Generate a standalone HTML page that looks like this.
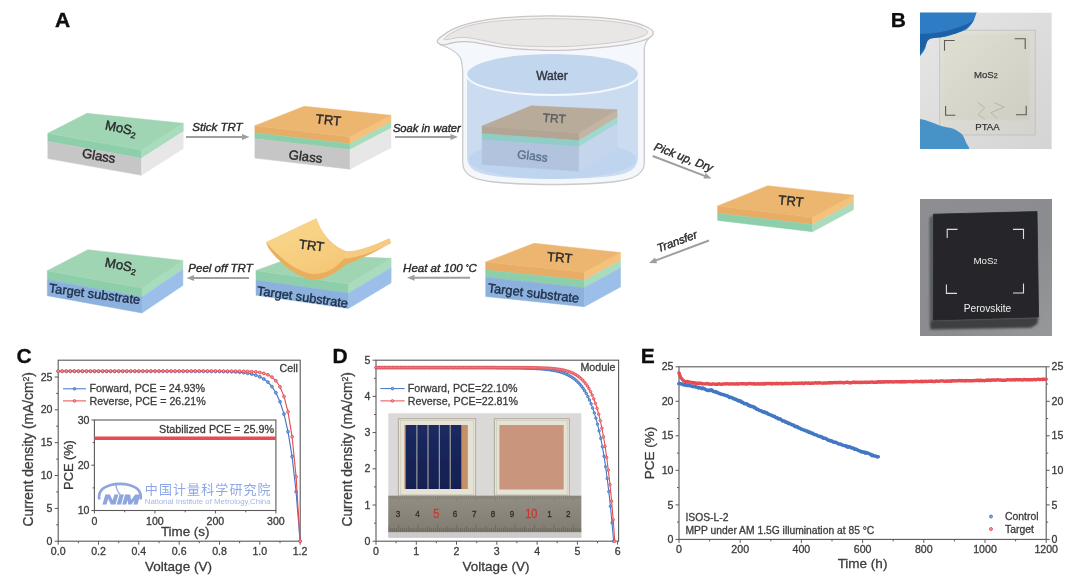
<!DOCTYPE html>
<html lang="en"><head><meta charset="utf-8"><title>Figure</title>
<style>
html,body{margin:0;padding:0;background:#fff;}
body{width:1080px;height:581px;overflow:hidden;font-family:"Liberation Sans", "Noto Sans CJK SC", sans-serif;}
svg{display:block;}
</style></head><body>
<svg width="1080" height="581" viewBox="0 0 1080 581" stroke-width="0.25" font-family='"Liberation Sans", "Noto Sans CJK SC", sans-serif'>
<defs>
<filter id="b1" x="-5%" y="-5%" width="110%" height="110%"><feGaussianBlur stdDeviation="0.6"/></filter>
<filter id="b2" x="-5%" y="-5%" width="110%" height="110%"><feGaussianBlur stdDeviation="1.2"/></filter>
<linearGradient id="peel" x1="0" y1="0" x2="1" y2="1"><stop offset="0" stop-color="#fad98f"/><stop offset="0.6" stop-color="#f6cb7c"/><stop offset="1" stop-color="#f2bf6e"/></linearGradient>
<linearGradient id="ruler" x1="0" y1="0" x2="0" y2="1"><stop offset="0" stop-color="#928e85"/><stop offset="0.5" stop-color="#89857b"/><stop offset="1" stop-color="#807c71"/></linearGradient>
<linearGradient id="navy" x1="0" y1="0" x2="0" y2="1"><stop offset="0" stop-color="#1b2a62"/><stop offset="1" stop-color="#141f50"/></linearGradient>
</defs>
<rect width="1080" height="581" fill="#ffffff"/>
<g id="panelA" filter="url(#b1)" stroke-width="0.4">
<text x="55" y="26.8" font-size="21" font-weight="bold" fill="#111" stroke="#111">A</text>
<g>
<polygon points="47.8,133.3 141.5,150 141.5,158.3 47.8,141.6" fill="#8ecfab" stroke="#8ecfab" stroke-width="0.5"/>
<polygon points="141.5,150 183.3,123.3 183.3,131.6 141.5,158.3" fill="#a9dbbd" stroke="#a9dbbd" stroke-width="0.5"/>
<polygon points="47.8,141.6 141.5,158.3 141.5,175.3 47.8,158.6" fill="#c6c6c6" stroke="#c6c6c6" stroke-width="0.5"/>
<polygon points="141.5,158.3 183.3,131.6 183.3,148.6 141.5,175.3" fill="#e7e7e7" stroke="#e7e7e7" stroke-width="0.5"/>
<polygon points="47.8,133.3 87,113.3 183.3,123.3 141.5,150" fill="#a0d5b3" stroke="#a0d5b3" stroke-width="0.5"/>
</g>
<text x="120" y="132.5" font-size="13.2" text-anchor="middle" fill="#2b2b2b" stroke="#2b2b2b" transform="rotate(11.5 120 132.5)">MoS<tspan font-size="8.5" dy="3">2</tspan></text>
<text x="98" y="160.3" font-size="13.2" text-anchor="middle" fill="#2b2b2b" stroke="#2b2b2b" transform="rotate(10 98 160.3)">Glass</text>
<line x1="186" y1="137" x2="243.5" y2="137" stroke="#9e9e9e" stroke-width="2.0"/>
<polygon points="249.5,137 242,140 242,134" fill="#9e9e9e"/>
<text x="217.5" y="131" font-size="11.5" text-anchor="middle" font-style="italic" fill="#2b2b2b" stroke="#2b2b2b">Stick TRT</text>
<g>
<polygon points="254.9,125.7 350,136.8 350,143.8 254.9,132.7" fill="#e7ad66" stroke="#e7ad66" stroke-width="0.5"/>
<polygon points="350,136.8 391,115.3 391,122.3 350,143.8" fill="#f5c27c" stroke="#f5c27c" stroke-width="0.5"/>
<polygon points="254.9,132.7 350,143.8 350,149.8 254.9,138.7" fill="#8ecfab" stroke="#8ecfab" stroke-width="0.5"/>
<polygon points="350,143.8 391,122.3 391,128.3 350,149.8" fill="#a9dbbd" stroke="#a9dbbd" stroke-width="0.5"/>
<polygon points="254.9,138.7 350,149.8 350,169.2 254.9,158.1" fill="#c6c6c6" stroke="#c6c6c6" stroke-width="0.5"/>
<polygon points="350,149.8 391,128.3 391,147.7 350,169.2" fill="#e7e7e7" stroke="#e7e7e7" stroke-width="0.5"/>
<polygon points="254.9,125.7 304.2,106.3 391,115.3 350,136.8" fill="#ecb671" stroke="#ecb671" stroke-width="0.5"/>
</g>
<text x="328" y="124.5" font-size="13.2" text-anchor="middle" fill="#2b2b2b" stroke="#2b2b2b" transform="rotate(6 328 124.5)">TRT</text>
<text x="305" y="161" font-size="13.2" text-anchor="middle" fill="#2b2b2b" stroke="#2b2b2b" transform="rotate(7 305 161)">Glass</text>
<line x1="395" y1="137" x2="452" y2="137" stroke="#9e9e9e" stroke-width="2.0"/>
<polygon points="458,137 450.5,140 450.5,134" fill="#9e9e9e"/>
<text x="426.8" y="131.5" font-size="11.2" text-anchor="middle" font-style="italic" fill="#2b2b2b" stroke="#2b2b2b">Soak in water</text>
<g>
<path d="M441 45 Q456 50 460.7 58.2 Q462.5 64 462.7 72 L462.7 163 C463 174 472 179 490 181.5 C520 185.5 586 185.5 616 181.5 C634 179 644 174 644.3 163 L644.3 48 Q645.5 41 651 36 L553 20 Z" fill="#f4f7fb" stroke="#cbc9ca" stroke-width="1.3"/>
<path d="M467 74.5 L467 158 C468 169 476 173.5 494 176 C524 180 582 180 612 176 C630 173.5 637 169 638 158 L638 74.5 Z" fill="#cbdcf0"/>
<ellipse cx="552.5" cy="159.5" rx="84" ry="19.5" fill="#bfd4ee"/>
<g>
<polygon points="482.1,126 579.2,132.9 579.2,140.6 482.1,133.7" fill="#b2a593" stroke="#b2a593" stroke-width="0.5"/>
<polygon points="579.2,132.9 617.1,109.7 617.1,117.4 579.2,140.6" fill="#c3b5a3" stroke="#c3b5a3" stroke-width="0.5"/>
<polygon points="482.1,133.7 579.2,140.6 579.2,146.8 482.1,139.9" fill="#8fcdc6" stroke="#8fcdc6" stroke-width="0.5"/>
<polygon points="579.2,140.6 617.1,117.4 617.1,123.6 579.2,146.8" fill="#9fd8d1" stroke="#9fd8d1" stroke-width="0.5"/>
<polygon points="482.1,139.9 579.2,146.8 579.2,171.3 482.1,164.4" fill="#b2c4dd" stroke="#b2c4dd" stroke-width="0.5"/>
<polygon points="579.2,146.8 617.1,123.6 617.1,148.1 579.2,171.3" fill="#c5d6ec" stroke="#c5d6ec" stroke-width="0.5"/>
<polygon points="482.1,126 531.2,105.8 617.1,109.7 579.2,132.9" fill="#b9ab99" stroke="#b9ab99" stroke-width="0.5"/>
</g>
<text x="554" y="122.5" font-size="12" text-anchor="middle" fill="#5a5f66" stroke="#5a5f66" transform="rotate(4 554 122.5)">TRT</text>
<text x="532" y="160" font-size="12" text-anchor="middle" fill="#5d7390" stroke="#5d7390" transform="rotate(7 532 160)">Glass</text>
<ellipse cx="552.5" cy="74.5" rx="85.5" ry="20.5" fill="#c2d6ee"/>
<path d="M466.5 74.5 A86 20.5 0 0 0 638.5 74.5" fill="none" stroke="#f4f8fd" stroke-width="2"/>
<text x="552" y="79.5" font-size="12" text-anchor="middle" fill="#2f3540" stroke="#2f3540">Water</text>
<path d="M437.2 41.3C437 39.8 439.2 38 442 35.9C444.8 33.8 449.1 30.9 454.1 28.7C459.1 26.5 464.2 24.4 472.2 22.6C480.2 20.8 489.2 18.9 502.3 17.8C515.4 16.7 534.2 15.8 550.5 15.8C566.8 15.8 586.8 16.7 600 17.6C613.2 18.6 622.3 20 630 21.5C637.7 23 642.1 24.7 646 26.5C649.9 28.3 653 30.2 653.3 32.2C653.6 34.2 651.9 36.6 648 38.5C644.1 40.4 638 42.1 630 43.6C622 45.1 611.7 46.5 600 47.6C588.3 48.7 572.3 50.1 560 50.4C547.7 50.7 536 50 526.4 49.5C516.8 49 510.4 48.4 502.3 47.3C494.2 46.2 484.1 44 478 43.1C471.9 42.2 470 41.7 466 41.6C462 41.5 457.8 41.7 454 42.3C450.2 42.9 445.8 45.2 443 45C440.2 44.8 437.4 42.8 437.2 41.3Z" fill="#f5f3f3" stroke="#c9c5c6" stroke-width="1.3"/>
<path d="M443.9 39.5C442.9 38.5 449.3 34.1 454 31.7C458.7 29.3 463.9 26.9 472 25C480.1 23.1 489.2 21.7 502.3 20.6C515.4 19.6 534.2 18.7 550.5 18.7C566.8 18.7 587.1 19.5 600 20.4C612.9 21.3 621 22.7 628 24C635 25.3 638.8 26.6 642 28C645.2 29.4 647.5 30.8 647.5 32.2C647.5 33.6 645.6 35.1 642 36.5C638.4 37.9 633.3 39.3 626 40.6C618.7 41.9 609 43.2 598 44.2C587 45.2 574 46.5 560 46.7C546 46.9 526 46.3 514.3 45.5C502.6 44.7 497.1 43.1 490 41.9C482.9 40.7 477 39 472 38.3C467 37.6 464.7 37.3 460 37.5C455.3 37.7 444.9 40.5 443.9 39.5Z" fill="#e9e7e6" stroke="#cfcbcc" stroke-width="1"/>
</g>
<line x1="652.7" y1="156" x2="705.9" y2="176.4" stroke="#9e9e9e" stroke-width="2.0"/>
<polygon points="711.5,178.5 703.4,178.6 705.6,173" fill="#9e9e9e"/>
<text x="682.3" y="160.8" font-size="11.5" text-anchor="middle" font-style="italic" fill="#2b2b2b" stroke="#2b2b2b" transform="rotate(21 682.3 160.8)">Pick up, Dry</text>
<g>
<polygon points="717.6,205.9 812.5,217.2 812.5,224.6 717.6,213.3" fill="#e7ad66" stroke="#e7ad66" stroke-width="0.5"/>
<polygon points="812.5,217.2 853.5,195.2 853.5,202.6 812.5,224.6" fill="#f5c27c" stroke="#f5c27c" stroke-width="0.5"/>
<polygon points="717.6,213.3 812.5,224.6 812.5,231.7 717.6,220.4" fill="#8ecfab" stroke="#8ecfab" stroke-width="0.5"/>
<polygon points="812.5,224.6 853.5,202.6 853.5,209.7 812.5,231.7" fill="#a9dbbd" stroke="#a9dbbd" stroke-width="0.5"/>
<polygon points="717.6,205.9 767.7,185.7 853.5,195.2 812.5,217.2" fill="#ecb671" stroke="#ecb671" stroke-width="0.5"/>
</g>
<text x="790.5" y="205.5" font-size="13.2" text-anchor="middle" fill="#2b2b2b" stroke="#2b2b2b" transform="rotate(6 790.5 205.5)">TRT</text>
<line x1="709" y1="240.5" x2="654.6" y2="260.9" stroke="#9e9e9e" stroke-width="2.0"/>
<polygon points="649,263 655,257.6 657.1,263.2" fill="#9e9e9e"/>
<text x="678.5" y="245" font-size="11.5" text-anchor="middle" font-style="italic" fill="#2b2b2b" stroke="#2b2b2b" transform="rotate(-20.5 678.5 245)">Transfer</text>
<g>
<polygon points="485.7,262 584.4,272.2 584.4,280.2 485.7,270" fill="#e7ad66" stroke="#e7ad66" stroke-width="0.5"/>
<polygon points="584.4,272.2 620.5,252.5 620.5,260.5 584.4,280.2" fill="#f5c27c" stroke="#f5c27c" stroke-width="0.5"/>
<polygon points="485.7,270 584.4,280.2 584.4,287.7 485.7,277.5" fill="#8ecfab" stroke="#8ecfab" stroke-width="0.5"/>
<polygon points="584.4,280.2 620.5,260.5 620.5,268 584.4,287.7" fill="#a9dbbd" stroke="#a9dbbd" stroke-width="0.5"/>
<polygon points="485.7,277.5 584.4,287.7 584.4,306.7 485.7,296.5" fill="#8cb1dd" stroke="#8cb1dd" stroke-width="0.5"/>
<polygon points="584.4,287.7 620.5,268 620.5,287 584.4,306.7" fill="#9bbfe8" stroke="#9bbfe8" stroke-width="0.5"/>
<polygon points="485.7,262 534,243.3 620.5,252.5 584.4,272.2" fill="#ecb671" stroke="#ecb671" stroke-width="0.5"/>
</g>
<text x="559.5" y="262" font-size="13.2" text-anchor="middle" fill="#2b2b2b" stroke="#2b2b2b" transform="rotate(5 559.5 262)">TRT</text>
<text x="533" y="297.5" font-size="12.8" text-anchor="middle" fill="#1f2f4a" stroke="#1f2f4a" transform="rotate(6.5 533 297.5)">Target substrate</text>
<line x1="470" y1="277.8" x2="413" y2="277.8" stroke="#9e9e9e" stroke-width="2.0"/>
<polygon points="407,277.8 414.5,274.8 414.5,280.8" fill="#9e9e9e"/>
<text x="440" y="271.5" font-size="11.5" text-anchor="middle" font-style="italic" fill="#2b2b2b" stroke="#2b2b2b">Heat at 100 <tspan font-size="7" dy="-2">°</tspan><tspan dy="2">C</tspan></text>
<g>
<polygon points="256,270.6 348.5,283.9 348.5,293.3 256,280" fill="#8ecfab" stroke="#8ecfab" stroke-width="0.5"/>
<polygon points="348.5,283.9 391.1,258.3 391.1,267.7 348.5,293.3" fill="#a9dbbd" stroke="#a9dbbd" stroke-width="0.5"/>
<polygon points="256,280 348.5,293.3 348.5,308.5 256,295.2" fill="#8cb1dd" stroke="#8cb1dd" stroke-width="0.5"/>
<polygon points="348.5,293.3 391.1,267.7 391.1,282.9 348.5,308.5" fill="#9bbfe8" stroke="#9bbfe8" stroke-width="0.5"/>
<polygon points="256,270.6 300,254.5 391.1,258.3 348.5,283.9" fill="#a0d5b3" stroke="#a0d5b3" stroke-width="0.5"/>
</g>
<text x="302" y="301.3" font-size="12.8" text-anchor="middle" fill="#1f2f4a" stroke="#1f2f4a" transform="rotate(8 302 301.3)">Target substrate</text>
<path d="M266.1 242.2C266.7 243.4 267.4 246.6 269.5 249.5C271.6 252.4 274.7 256 278.4 259.6C282.1 263.2 287 267.9 291.7 271C296.4 274.1 302.1 277 306.8 278.4C311.5 279.8 315.6 280 320 279.2C324.4 278.4 328.9 276.1 333.3 273.6C337.7 271.1 344.4 265.8 346.6 264.2 L346.6 264.2C348.2 263.6 351.6 262.3 356 260.4C360.4 258.5 367.2 255.7 373.1 252.8C379 249.9 388.1 244.7 391.1 243.1 L389.2 238.4C386.2 239.8 376.7 244.7 371.2 246.9C365.7 249.1 360.4 251.1 356 251.7C351.6 252.3 348.8 252.3 344.7 250.7C340.6 249.1 335.2 245.5 331.4 242.2C327.6 238.9 324.5 234.8 322 230.8C319.5 226.9 317.2 220.6 316.3 218.5 Z" fill="#e8ae5c"/>
<path d="M316.3 218.5C317.2 220.6 319.5 226.9 322 230.8C324.5 234.8 327.6 238.9 331.4 242.2C335.2 245.5 340.6 249.1 344.7 250.7C348.8 252.3 351.6 252.3 356 251.7C360.4 251.1 365.7 249.1 371.2 246.9C376.7 244.7 386.2 239.8 389.2 238.4 L344.7 258.3 L344.7 258.3C342.8 260 337.1 265.9 333 268.5C328.9 271.1 324.4 272.9 320 273.6C315.6 274.3 311.6 274.2 306.8 272.8C302.1 271.4 296.5 268.7 291.5 265.5C286.5 262.3 281.2 257.7 277 253.8C272.8 249.9 267.9 244.1 266.1 242.2 L316.3 218.5 Z" fill="url(#peel)"/>
<path d="M344.7 251 Q358 252.5 389.2 238.4 L391.1 243.1 Q362 258 344.7 258.6 Z" fill="#f6ca82"/>
<text x="311" y="250" font-size="13.2" text-anchor="middle" fill="#2b2b2b" stroke="#2b2b2b" transform="rotate(7 311 250)">TRT</text>
<line x1="249" y1="278" x2="192.5" y2="278" stroke="#9e9e9e" stroke-width="2.0"/>
<polygon points="186.5,278 194,275 194,281" fill="#9e9e9e"/>
<text x="220.5" y="271.5" font-size="11.5" text-anchor="middle" font-style="italic" fill="#2b2b2b" stroke="#2b2b2b">Peel off TRT</text>
<g>
<polygon points="47.3,270.7 142,288 142,297 47.3,279.7" fill="#8ecfab" stroke="#8ecfab" stroke-width="0.5"/>
<polygon points="142,288 182.9,260.5 182.9,269.5 142,297" fill="#a9dbbd" stroke="#a9dbbd" stroke-width="0.5"/>
<polygon points="47.3,279.7 142,297 142,313 47.3,295.7" fill="#8cb1dd" stroke="#8cb1dd" stroke-width="0.5"/>
<polygon points="142,297 182.9,269.5 182.9,285.5 142,313" fill="#9bbfe8" stroke="#9bbfe8" stroke-width="0.5"/>
<polygon points="47.3,270.7 87.8,249.7 182.9,260.5 142,288" fill="#a0d5b3" stroke="#a0d5b3" stroke-width="0.5"/>
</g>
<text x="120" y="269.5" font-size="13.2" text-anchor="middle" fill="#2b2b2b" stroke="#2b2b2b" transform="rotate(11 120 269.5)">MoS<tspan font-size="8.5" dy="3">2</tspan></text>
<text x="94" y="298.3" font-size="12.8" text-anchor="middle" fill="#1f2f4a" stroke="#1f2f4a" transform="rotate(7.5 94 298.3)">Target substrate</text>
</g>
<g id="panelB" filter="url(#b1)">
<text x="890.7" y="26.8" font-size="21" font-weight="bold" fill="#111" stroke="#111">B</text>
<clipPath id="cp1"><rect x="920" y="12.4" width="131.8" height="136.7"/></clipPath>
<g clip-path="url(#cp1)">
<linearGradient id="p1bg" x1="0" y1="0" x2="1" y2="1"><stop offset="0" stop-color="#e6e6e7"/><stop offset="1" stop-color="#d4d4d4"/></linearGradient>
<linearGradient id="p1gl" x1="0" y1="0" x2="1" y2="1"><stop offset="0" stop-color="#e3e2dc"/><stop offset="1" stop-color="#d3d2cc"/></linearGradient>
<linearGradient id="p1in" x1="0" y1="0" x2="1" y2="1"><stop offset="0" stop-color="#e0dfd3"/><stop offset="1" stop-color="#cfcec3"/></linearGradient>
<rect x="920" y="12.4" width="131.8" height="136.7" fill="url(#p1bg)"/>
<rect x="939.8" y="30.2" width="95.4" height="104.8" fill="url(#p1gl)" stroke="#c0c0ba" stroke-width="0.9"/>
<rect x="942.5" y="34" width="87" height="86" fill="url(#p1in)" filter="url(#b2)"/>
<path d="M918 10C924.8 4.4 969.8 9.7 976.6 10C983.4 10.3 976.7 11.6 976.3 13C975.9 14.4 974.3 19.7 973.2 21.6C972.1 23.5 969 27.6 967 29C965 30.4 958.6 32.5 955.9 33.4C953.2 34.3 946.4 36.5 943.5 37.1C940.6 37.7 932.9 38 931 38.4C929.1 38.8 928.1 39.2 927.4 40.4C926.7 41.6 925.9 47 925 48.9C924.1 50.8 920.8 55.2 920 56.3C919.2 57.4 918.2 63.4 918 58C917.8 52.6 911.2 15.6 918 10Z" fill="#2d7cc3"/>
<path d="M918 34 Q940 34 958 27.5 Q968 24 973.5 20.5 Q969 29 956 33.4 Q944 37 931 38.4 Q927 39.5 925.5 46 L918 58 Z" fill="#1d5da3" opacity="0.85"/>
<path d="M918 120.6C919.5 117.2 928.3 121.5 931.1 122.2C933.9 122.9 939.2 125.5 941.9 126.3C944.6 127.1 951.6 128 953.9 128.9C956.2 129.8 960.6 132.7 962 134.3C963.4 135.9 965.4 140.5 966 142.4C966.6 144.3 972.5 150 966.9 151C961.3 152 923.7 154.5 918 151C912.3 147.5 916.5 124 918 120.6Z" fill="#4692c6"/>
<path d="M944.5 50.8 V40.5 H954.7 M1014.7 38.7 H1025.2 V48.9 M945.6 106.1 V115.2 H955.3 M1016 114.8 H1026.2 V105.8" fill="none" stroke="#5a5b55" stroke-width="1.1"/>
<path d="M978.1 102.8 L984.8 107.4 L978.1 114.8 L984.8 118.9 M994.2 102.8 L1004.3 106.8 L990.9 112.8 L997.6 118.9" fill="none" stroke="#adada7" stroke-width="0.8"/>
<text x="974" y="78" font-size="9.6" fill="#3b3b3b" stroke="#3b3b3b">MoS<tspan font-size="7">2</tspan></text>
<text x="987.5" y="130.3" font-size="9.6" text-anchor="middle" fill="#333" stroke="#333">PTAA</text>
</g>
<linearGradient id="gbg" x1="0" y1="0" x2="1" y2="1"><stop offset="0" stop-color="#8c8e91"/><stop offset="0.6" stop-color="#8a8c8f"/><stop offset="1" stop-color="#96989a"/></linearGradient>
<clipPath id="cp2"><rect x="920.3" y="199" width="131.6" height="137"/></clipPath>
<g clip-path="url(#cp2)">
<rect x="920" y="198.5" width="132.5" height="138" fill="url(#gbg)"/>
<g filter="url(#b2)">
<polygon points="929.5,218 933.5,214.2 933.2,320 929.8,323" fill="#55575a"/>
<polygon points="933.2,320 1038.6,316.9 1037.2,324 1031,327.8 930.5,329.6 929.8,323" fill="#3e3f41"/>
</g>
<polygon points="933.5,214.2 1037,211.6 1038.6,316.9 933.2,320" fill="#25282b" stroke="#202325" stroke-width="0.8"/>
<path d="M947.2 238 V229.4 H957.5 M1013 229.4 H1023.5 V239 M946.4 284.5 V293.4 H957 M1013 293 H1023.5 V283.5" fill="none" stroke="#dedede" stroke-width="1.1"/>
<text x="985.5" y="264" font-size="9.8" text-anchor="middle" fill="#ededed">MoS<tspan font-size="7.2">2</tspan></text>
<text x="987.5" y="311.5" font-size="10.2" text-anchor="middle" fill="#ededed">Perovskite</text>
</g>
</g>
<g id="panelC" filter="url(#b1)" stroke-width="0.3">
<text x="16.5" y="363.3" font-size="21" font-weight="bold" fill="#111" stroke="#111">C</text>
<rect x="58.2" y="360.2" width="242" height="181" fill="none" stroke="#5a5a5a" stroke-width="1.1"/>
<path d="M58.2 541.2v3.5M98.5 541.2v3.5M138.8 541.2v3.5M179.2 541.2v3.5M219.5 541.2v3.5M259.8 541.2v3.5M300.1 541.2v3.5" stroke="#5a5a5a" stroke-width="1" fill="none"/>
<path d="M78.4 541.2v2M118.7 541.2v2M159 541.2v2M199.3 541.2v2M239.6 541.2v2M280 541.2v2" stroke="#5a5a5a" stroke-width="1" fill="none"/>
<path d="M58.2 541.2h-3.5M58.2 508.4h-3.5M58.2 475.5h-3.5M58.2 442.7h-3.5M58.2 409.8h-3.5M58.2 377h-3.5" stroke="#5a5a5a" stroke-width="1" fill="none"/>
<path d="M58.2 524.8h-2M58.2 491.9h-2M58.2 459.1h-2M58.2 426.2h-2M58.2 393.4h-2" stroke="#5a5a5a" stroke-width="1" fill="none"/>
<text x="58.2" y="555.3" font-size="10.6" text-anchor="middle" fill="#3c3c3c" stroke="#3c3c3c">0.0</text>
<text x="98.5" y="555.3" font-size="10.6" text-anchor="middle" fill="#3c3c3c" stroke="#3c3c3c">0.2</text>
<text x="138.8" y="555.3" font-size="10.6" text-anchor="middle" fill="#3c3c3c" stroke="#3c3c3c">0.4</text>
<text x="179.2" y="555.3" font-size="10.6" text-anchor="middle" fill="#3c3c3c" stroke="#3c3c3c">0.6</text>
<text x="219.5" y="555.3" font-size="10.6" text-anchor="middle" fill="#3c3c3c" stroke="#3c3c3c">0.8</text>
<text x="259.8" y="555.3" font-size="10.6" text-anchor="middle" fill="#3c3c3c" stroke="#3c3c3c">1.0</text>
<text x="300.1" y="555.3" font-size="10.6" text-anchor="middle" fill="#3c3c3c" stroke="#3c3c3c">1.2</text>
<text x="52.5" y="544.8" font-size="10.6" text-anchor="end" fill="#3c3c3c" stroke="#3c3c3c">0</text>
<text x="52.5" y="512" font-size="10.6" text-anchor="end" fill="#3c3c3c" stroke="#3c3c3c">5</text>
<text x="52.5" y="479.1" font-size="10.6" text-anchor="end" fill="#3c3c3c" stroke="#3c3c3c">10</text>
<text x="52.5" y="446.3" font-size="10.6" text-anchor="end" fill="#3c3c3c" stroke="#3c3c3c">15</text>
<text x="52.5" y="413.4" font-size="10.6" text-anchor="end" fill="#3c3c3c" stroke="#3c3c3c">20</text>
<text x="52.5" y="380.6" font-size="10.6" text-anchor="end" fill="#3c3c3c" stroke="#3c3c3c">25</text>
<text x="178.5" y="571.3" font-size="13.5" text-anchor="middle" fill="#3c3c3c" stroke="#3c3c3c">Voltage (V)</text>
<text x="33.4" y="449.3" font-size="13.8" text-anchor="middle" fill="#3c3c3c" stroke="#3c3c3c" transform="rotate(-90 33.4 449.3)">Current density (mA/cm<tspan font-size="8.8" dy="-4.5">2</tspan><tspan dy="4.5">)</tspan></text>
<polyline points="58.2,371.4 62.2,371.4 66.3,371.4 70.3,371.4 74.3,371.4 78.4,371.4 82.4,371.4 86.4,371.4 90.5,371.4 94.5,371.4 98.5,371.4 102.6,371.4 106.6,371.4 110.6,371.4 114.6,371.4 118.7,371.4 122.7,371.4 126.7,371.4 130.8,371.4 134.8,371.4 138.8,371.4 142.9,371.4 146.9,371.4 150.9,371.4 155,371.4 159,371.4 163,371.4 167.1,371.4 171.1,371.4 175.1,371.4 179.2,371.4 183.2,371.4 187.2,371.4 191.3,371.4 195.3,371.4 199.3,371.4 203.4,371.4 207.4,371.4 211.4,371.5 215.4,371.5 219.5,371.5 223.5,371.6 227.5,371.7 231.6,371.8 235.6,372 239.6,372.3 243.7,372.7 247.7,373.3 251.7,374.1 255.8,375.2 259.8,376.8 263.8,379 267.9,382.1 271.9,386.6 275.9,392.8 280,401.7 284,414.1 288,431.7 292.1,456.6 296.1,491.7 300.1,541.2" fill="none" stroke="#4277c4" stroke-width="1.15" stroke-linejoin="round"/>
<g fill="#86a8dc" stroke="#4277c4" stroke-width="0.9">
<circle cx="58.2" cy="371.4" r="1.4"/>
<circle cx="62.2" cy="371.4" r="1.4"/>
<circle cx="66.3" cy="371.4" r="1.4"/>
<circle cx="70.3" cy="371.4" r="1.4"/>
<circle cx="74.3" cy="371.4" r="1.4"/>
<circle cx="78.4" cy="371.4" r="1.4"/>
<circle cx="82.4" cy="371.4" r="1.4"/>
<circle cx="86.4" cy="371.4" r="1.4"/>
<circle cx="90.5" cy="371.4" r="1.4"/>
<circle cx="94.5" cy="371.4" r="1.4"/>
<circle cx="98.5" cy="371.4" r="1.4"/>
<circle cx="102.6" cy="371.4" r="1.4"/>
<circle cx="106.6" cy="371.4" r="1.4"/>
<circle cx="110.6" cy="371.4" r="1.4"/>
<circle cx="114.6" cy="371.4" r="1.4"/>
<circle cx="118.7" cy="371.4" r="1.4"/>
<circle cx="122.7" cy="371.4" r="1.4"/>
<circle cx="126.7" cy="371.4" r="1.4"/>
<circle cx="130.8" cy="371.4" r="1.4"/>
<circle cx="134.8" cy="371.4" r="1.4"/>
<circle cx="138.8" cy="371.4" r="1.4"/>
<circle cx="142.9" cy="371.4" r="1.4"/>
<circle cx="146.9" cy="371.4" r="1.4"/>
<circle cx="150.9" cy="371.4" r="1.4"/>
<circle cx="155" cy="371.4" r="1.4"/>
<circle cx="159" cy="371.4" r="1.4"/>
<circle cx="163" cy="371.4" r="1.4"/>
<circle cx="167.1" cy="371.4" r="1.4"/>
<circle cx="171.1" cy="371.4" r="1.4"/>
<circle cx="175.1" cy="371.4" r="1.4"/>
<circle cx="179.2" cy="371.4" r="1.4"/>
<circle cx="183.2" cy="371.4" r="1.4"/>
<circle cx="187.2" cy="371.4" r="1.4"/>
<circle cx="191.3" cy="371.4" r="1.4"/>
<circle cx="195.3" cy="371.4" r="1.4"/>
<circle cx="199.3" cy="371.4" r="1.4"/>
<circle cx="203.4" cy="371.4" r="1.4"/>
<circle cx="207.4" cy="371.4" r="1.4"/>
<circle cx="211.4" cy="371.5" r="1.4"/>
<circle cx="215.4" cy="371.5" r="1.4"/>
<circle cx="219.5" cy="371.5" r="1.4"/>
<circle cx="223.5" cy="371.6" r="1.4"/>
<circle cx="227.5" cy="371.7" r="1.4"/>
<circle cx="231.6" cy="371.8" r="1.4"/>
<circle cx="235.6" cy="372" r="1.4"/>
<circle cx="239.6" cy="372.3" r="1.4"/>
<circle cx="243.7" cy="372.7" r="1.4"/>
<circle cx="247.7" cy="373.3" r="1.4"/>
<circle cx="251.7" cy="374.1" r="1.4"/>
<circle cx="255.8" cy="375.2" r="1.4"/>
<circle cx="259.8" cy="376.8" r="1.4"/>
<circle cx="263.8" cy="379" r="1.4"/>
<circle cx="267.9" cy="382.1" r="1.4"/>
<circle cx="271.9" cy="386.6" r="1.4"/>
<circle cx="275.9" cy="392.8" r="1.4"/>
<circle cx="280" cy="401.7" r="1.4"/>
<circle cx="284" cy="414.1" r="1.4"/>
<circle cx="288" cy="431.7" r="1.4"/>
<circle cx="292.1" cy="456.6" r="1.4"/>
<circle cx="296.1" cy="491.7" r="1.4"/>
<circle cx="300.1" cy="541.2" r="1.4"/>
</g>
<polyline points="58.2,371 62.2,371 66.3,371 70.3,371 74.3,371 78.4,371 82.4,371 86.4,371 90.5,371 94.5,371 98.5,371 102.6,371 106.6,371 110.6,371 114.6,371 118.7,371 122.7,371 126.7,371 130.8,371 134.8,371 138.8,371 142.9,371 146.9,371 150.9,371 155,371 159,371 163,371 167.1,371 171.1,371 175.1,371 179.2,371 183.2,371 187.2,371 191.3,371 195.3,371 199.3,371 203.4,371 207.4,371 211.4,371 215.4,371 219.5,371 223.5,371.1 227.5,371.1 231.6,371.1 235.6,371.1 239.6,371.2 243.7,371.3 247.7,371.4 251.7,371.6 255.8,371.9 259.8,372.5 263.8,373.4 267.9,374.8 271.9,377.1 275.9,380.8 280,386.8 284,396.4 288,411.8 292.1,436.7 296.1,476.7 300.1,541.2" fill="none" stroke="#e64d53" stroke-width="1.15" stroke-linejoin="round"/>
<g fill="#f29c9e" stroke="#e64d53" stroke-width="0.9">
<circle cx="58.2" cy="371" r="1.4"/>
<circle cx="62.2" cy="371" r="1.4"/>
<circle cx="66.3" cy="371" r="1.4"/>
<circle cx="70.3" cy="371" r="1.4"/>
<circle cx="74.3" cy="371" r="1.4"/>
<circle cx="78.4" cy="371" r="1.4"/>
<circle cx="82.4" cy="371" r="1.4"/>
<circle cx="86.4" cy="371" r="1.4"/>
<circle cx="90.5" cy="371" r="1.4"/>
<circle cx="94.5" cy="371" r="1.4"/>
<circle cx="98.5" cy="371" r="1.4"/>
<circle cx="102.6" cy="371" r="1.4"/>
<circle cx="106.6" cy="371" r="1.4"/>
<circle cx="110.6" cy="371" r="1.4"/>
<circle cx="114.6" cy="371" r="1.4"/>
<circle cx="118.7" cy="371" r="1.4"/>
<circle cx="122.7" cy="371" r="1.4"/>
<circle cx="126.7" cy="371" r="1.4"/>
<circle cx="130.8" cy="371" r="1.4"/>
<circle cx="134.8" cy="371" r="1.4"/>
<circle cx="138.8" cy="371" r="1.4"/>
<circle cx="142.9" cy="371" r="1.4"/>
<circle cx="146.9" cy="371" r="1.4"/>
<circle cx="150.9" cy="371" r="1.4"/>
<circle cx="155" cy="371" r="1.4"/>
<circle cx="159" cy="371" r="1.4"/>
<circle cx="163" cy="371" r="1.4"/>
<circle cx="167.1" cy="371" r="1.4"/>
<circle cx="171.1" cy="371" r="1.4"/>
<circle cx="175.1" cy="371" r="1.4"/>
<circle cx="179.2" cy="371" r="1.4"/>
<circle cx="183.2" cy="371" r="1.4"/>
<circle cx="187.2" cy="371" r="1.4"/>
<circle cx="191.3" cy="371" r="1.4"/>
<circle cx="195.3" cy="371" r="1.4"/>
<circle cx="199.3" cy="371" r="1.4"/>
<circle cx="203.4" cy="371" r="1.4"/>
<circle cx="207.4" cy="371" r="1.4"/>
<circle cx="211.4" cy="371" r="1.4"/>
<circle cx="215.4" cy="371" r="1.4"/>
<circle cx="219.5" cy="371" r="1.4"/>
<circle cx="223.5" cy="371.1" r="1.4"/>
<circle cx="227.5" cy="371.1" r="1.4"/>
<circle cx="231.6" cy="371.1" r="1.4"/>
<circle cx="235.6" cy="371.1" r="1.4"/>
<circle cx="239.6" cy="371.2" r="1.4"/>
<circle cx="243.7" cy="371.3" r="1.4"/>
<circle cx="247.7" cy="371.4" r="1.4"/>
<circle cx="251.7" cy="371.6" r="1.4"/>
<circle cx="255.8" cy="371.9" r="1.4"/>
<circle cx="259.8" cy="372.5" r="1.4"/>
<circle cx="263.8" cy="373.4" r="1.4"/>
<circle cx="267.9" cy="374.8" r="1.4"/>
<circle cx="271.9" cy="377.1" r="1.4"/>
<circle cx="275.9" cy="380.8" r="1.4"/>
<circle cx="280" cy="386.8" r="1.4"/>
<circle cx="284" cy="396.4" r="1.4"/>
<circle cx="288" cy="411.8" r="1.4"/>
<circle cx="292.1" cy="436.7" r="1.4"/>
<circle cx="296.1" cy="476.7" r="1.4"/>
<circle cx="300.1" cy="541.2" r="1.4"/>
</g>
<text x="298" y="371.5" font-size="10.7" text-anchor="end" fill="#3c3c3c" stroke="#3c3c3c">Cell</text>
<line x1="63" y1="388.8" x2="86" y2="388.8" stroke="#4277c4" stroke-width="1"/>
<circle cx="74.5" cy="388.8" r="1.3" fill="#86a8dc" stroke="#4277c4" stroke-width="0.9"/>
<text x="89.5" y="392.4" font-size="10.7" fill="#3c3c3c" stroke="#3c3c3c">Forward, PCE = 24.93%</text>
<line x1="63" y1="400.9" x2="86" y2="400.9" stroke="#e64d53" stroke-width="1"/>
<circle cx="74.5" cy="400.9" r="1.3" fill="#f29c9e" stroke="#e64d53" stroke-width="0.9"/>
<text x="89.5" y="404.5" font-size="10.7" fill="#3c3c3c" stroke="#3c3c3c">Reverse, PCE = 26.21%</text>
<rect x="94.4" y="420" width="181.5" height="90.5" fill="#fff"/>
<g>
<path d="M99.3 499.5 Q97.5 489 110 485.3 Q120 482.6 130 485.3 Q142.5 489 140.5 499.5" fill="none" stroke="#8fa6dd" stroke-width="2.7"/>
<path d="M115.6 483.5 Q116.5 491 120.3 494.8" fill="none" stroke="#8fa6dd" stroke-width="1.3"/>
<text x="121" y="504" font-size="12" text-anchor="middle" font-weight="bold" font-style="italic" fill="#8fa6dd" stroke="#8fa6dd" stroke-width="0.9" textLength="36" lengthAdjust="spacingAndGlyphs">NIM</text>
<text x="144.8" y="494.3" font-size="13" fill="#8da7e6" textLength="125.8" lengthAdjust="spacing">中国计量科学研究院</text>
<text x="144.8" y="503.6" font-size="7.2" fill="#a3b6e6" textLength="125.8" lengthAdjust="spacingAndGlyphs">National Institute of Metrology,China</text>
</g>
<rect x="94.4" y="420" width="181.5" height="90.5" fill="none" stroke="#5a5a5a" stroke-width="1.1"/>
<path d="M94.4 510.5v3M154.9 510.5v3M215.4 510.5v3M275.9 510.5v3" stroke="#5a5a5a" stroke-width="1" fill="none"/>
<path d="M124.7 510.5v1.8M185.2 510.5v1.8M245.7 510.5v1.8" stroke="#5a5a5a" stroke-width="1" fill="none"/>
<path d="M94.4 510.5h-3M94.4 465.2h-3M94.4 420h-3" stroke="#5a5a5a" stroke-width="1" fill="none"/>
<path d="M94.4 487.9h-1.8M94.4 442.6h-1.8" stroke="#5a5a5a" stroke-width="1" fill="none"/>
<text x="94.4" y="524.6" font-size="10.6" text-anchor="middle" fill="#3c3c3c" stroke="#3c3c3c">0</text>
<text x="154.9" y="524.6" font-size="10.6" text-anchor="middle" fill="#3c3c3c" stroke="#3c3c3c">100</text>
<text x="215.4" y="524.6" font-size="10.6" text-anchor="middle" fill="#3c3c3c" stroke="#3c3c3c">200</text>
<text x="275.9" y="524.6" font-size="10.6" text-anchor="middle" fill="#3c3c3c" stroke="#3c3c3c">300</text>
<text x="89.5" y="514.1" font-size="10.6" text-anchor="end" fill="#3c3c3c" stroke="#3c3c3c">10</text>
<text x="89.5" y="468.9" font-size="10.6" text-anchor="end" fill="#3c3c3c" stroke="#3c3c3c">20</text>
<text x="89.5" y="423.6" font-size="10.6" text-anchor="end" fill="#3c3c3c" stroke="#3c3c3c">30</text>
<text x="185.2" y="536.3" font-size="13.4" text-anchor="middle" fill="#3c3c3c" stroke="#3c3c3c">Time (s)</text>
<text x="72.6" y="465" font-size="12.8" text-anchor="middle" fill="#3c3c3c" stroke="#3c3c3c" transform="rotate(-90 72.6 465)">PCE (%)</text>
<line x1="94.4" y1="438.3" x2="275.9" y2="438.3" stroke="#e64d53" stroke-width="3.4"/>
<text x="274" y="432.6" font-size="10.8" text-anchor="end" fill="#3c3c3c" stroke="#3c3c3c">Stabilized PCE = 25.9%</text>
</g>
<g id="panelD" filter="url(#b1)" stroke-width="0.3">
<text x="332.5" y="363.2" font-size="21" font-weight="bold" fill="#111" stroke="#111">D</text>
<clipPath id="cp3"><rect x="388.3" y="413.2" width="193" height="124.6"/></clipPath>
<g clip-path="url(#cp3)">
<rect x="388" y="413" width="194" height="125.5" fill="#dad9d7"/>
<rect x="388" y="495.7" width="194" height="36.6" fill="url(#ruler)"/>
<rect x="388" y="532.3" width="194" height="6" fill="#cbcbcb"/>
<rect x="398.3" y="418.7" width="77.4" height="77" fill="#e5e3d6" stroke="#aaa695" stroke-width="0.9"/>
<rect x="400.6" y="420.6" width="72.8" height="74" fill="none" stroke="#cdc9b9" stroke-width="0.7"/>
<rect x="404.4" y="425" width="63.4" height="64" fill="#c39068"/>
<rect x="405.7" y="425" width="55.6" height="64" fill="url(#navy)"/>
<path d="M416.9 425v64M428 425v64M439.3 425v64M450.2 425v64" stroke="#cbc4ac" stroke-width="0.9"/>
<rect x="494.3" y="418.7" width="75" height="77" fill="#e5e3d6" stroke="#aaa695" stroke-width="0.9"/>
<rect x="496.4" y="420.6" width="70.8" height="74" fill="none" stroke="#cdc9b9" stroke-width="0.7"/>
<rect x="499.4" y="425" width="64.3" height="64.5" fill="#c9957b"/>
<path d="M388.9 532.3v-6M390.8 532.3v-4.2M392.8 532.3v-4.2M394.7 532.3v-4.2M396.7 532.3v-4.2M398.6 532.3v-7.4M400.5 532.3v-4.2M402.5 532.3v-4.2M404.4 532.3v-4.2M406.4 532.3v-4.2M408.3 532.3v-6M410.2 532.3v-4.2M412.2 532.3v-4.2M414.1 532.3v-4.2M416.1 532.3v-4.2M418 532.3v-7.4M419.9 532.3v-4.2M421.9 532.3v-4.2M423.8 532.3v-4.2M425.8 532.3v-4.2M427.7 532.3v-6M429.6 532.3v-4.2M431.6 532.3v-4.2M433.5 532.3v-4.2M435.5 532.3v-4.2M437.4 532.3v-7.4M439.3 532.3v-4.2M441.3 532.3v-4.2M443.2 532.3v-4.2M445.2 532.3v-4.2M447.1 532.3v-6M449 532.3v-4.2M451 532.3v-4.2M452.9 532.3v-4.2M454.9 532.3v-4.2M456.8 532.3v-7.4M458.7 532.3v-4.2M460.7 532.3v-4.2M462.6 532.3v-4.2M464.6 532.3v-4.2M466.5 532.3v-6M468.4 532.3v-4.2M470.4 532.3v-4.2M472.3 532.3v-4.2M474.3 532.3v-4.2M476.2 532.3v-7.4M478.1 532.3v-4.2M480.1 532.3v-4.2M482 532.3v-4.2M484 532.3v-4.2M485.9 532.3v-6M487.8 532.3v-4.2M489.8 532.3v-4.2M491.7 532.3v-4.2M493.7 532.3v-4.2M495.6 532.3v-7.4M497.5 532.3v-4.2M499.5 532.3v-4.2M501.4 532.3v-4.2M503.4 532.3v-4.2M505.3 532.3v-6M507.2 532.3v-4.2M509.2 532.3v-4.2M511.1 532.3v-4.2M513.1 532.3v-4.2M515 532.3v-7.4M516.9 532.3v-4.2M518.9 532.3v-4.2M520.8 532.3v-4.2M522.8 532.3v-4.2M524.7 532.3v-6M526.6 532.3v-4.2M528.6 532.3v-4.2M530.5 532.3v-4.2M532.5 532.3v-4.2M534.4 532.3v-7.4M536.3 532.3v-4.2M538.3 532.3v-4.2M540.2 532.3v-4.2M542.2 532.3v-4.2M544.1 532.3v-6M546 532.3v-4.2M548 532.3v-4.2M549.9 532.3v-4.2M551.9 532.3v-4.2M553.8 532.3v-7.4M555.7 532.3v-4.2M557.7 532.3v-4.2M559.6 532.3v-4.2M561.6 532.3v-4.2M563.5 532.3v-6M565.4 532.3v-4.2M567.4 532.3v-4.2M569.3 532.3v-4.2M571.3 532.3v-4.2M573.2 532.3v-7.4M575.1 532.3v-4.2M577.1 532.3v-4.2M579 532.3v-4.2M581 532.3v-4.2M582.9 532.3v-6" stroke="#4e4c42" stroke-width="0.55" opacity="0.75"/>
<path d="M388.9 495.7v3.2M390.8 495.7v3.2M392.8 495.7v3.2M394.7 495.7v3.2M396.7 495.7v3.2M398.6 495.7v5M400.5 495.7v3.2M402.5 495.7v3.2M404.4 495.7v3.2M406.4 495.7v3.2M408.3 495.7v3.2M410.2 495.7v3.2M412.2 495.7v3.2M414.1 495.7v3.2M416.1 495.7v3.2M418 495.7v5M419.9 495.7v3.2M421.9 495.7v3.2M423.8 495.7v3.2M425.8 495.7v3.2M427.7 495.7v3.2M429.6 495.7v3.2M431.6 495.7v3.2M433.5 495.7v3.2M435.5 495.7v3.2M437.4 495.7v5M439.3 495.7v3.2M441.3 495.7v3.2M443.2 495.7v3.2M445.2 495.7v3.2M447.1 495.7v3.2M449 495.7v3.2M451 495.7v3.2M452.9 495.7v3.2M454.9 495.7v3.2M456.8 495.7v5M458.7 495.7v3.2M460.7 495.7v3.2M462.6 495.7v3.2M464.6 495.7v3.2M466.5 495.7v3.2M468.4 495.7v3.2M470.4 495.7v3.2M472.3 495.7v3.2M474.3 495.7v3.2M476.2 495.7v5M478.1 495.7v3.2M480.1 495.7v3.2M482 495.7v3.2M484 495.7v3.2M485.9 495.7v3.2M487.8 495.7v3.2M489.8 495.7v3.2M491.7 495.7v3.2M493.7 495.7v3.2M495.6 495.7v5M497.5 495.7v3.2M499.5 495.7v3.2M501.4 495.7v3.2M503.4 495.7v3.2M505.3 495.7v3.2M507.2 495.7v3.2M509.2 495.7v3.2M511.1 495.7v3.2M513.1 495.7v3.2M515 495.7v5M516.9 495.7v3.2M518.9 495.7v3.2M520.8 495.7v3.2M522.8 495.7v3.2M524.7 495.7v3.2M526.6 495.7v3.2M528.6 495.7v3.2M530.5 495.7v3.2M532.5 495.7v3.2M534.4 495.7v5M536.3 495.7v3.2M538.3 495.7v3.2M540.2 495.7v3.2M542.2 495.7v3.2M544.1 495.7v3.2M546 495.7v3.2M548 495.7v3.2M549.9 495.7v3.2M551.9 495.7v3.2M553.8 495.7v5M555.7 495.7v3.2M557.7 495.7v3.2M559.6 495.7v3.2M561.6 495.7v3.2M563.5 495.7v3.2M565.4 495.7v3.2M567.4 495.7v3.2M569.3 495.7v3.2M571.3 495.7v3.2M573.2 495.7v5M575.1 495.7v3.2M577.1 495.7v3.2M579 495.7v3.2M581 495.7v3.2M582.9 495.7v3.2" stroke="#5e5c50" stroke-width="0.5" opacity="0.55"/>
<text x="398" y="517.1" font-size="9.6" text-anchor="middle" fill="#302d29" stroke="#302d29" textLength="4.5" lengthAdjust="spacingAndGlyphs">3</text>
<text x="417.4" y="517.1" font-size="9.6" text-anchor="middle" fill="#302d29" stroke="#302d29" textLength="4.5" lengthAdjust="spacingAndGlyphs">4</text>
<text x="436.3" y="518.4" font-size="13" text-anchor="middle" fill="#d0352b" stroke="#d0352b" textLength="6.1" lengthAdjust="spacingAndGlyphs">5</text>
<text x="455" y="517.1" font-size="9.6" text-anchor="middle" fill="#302d29" stroke="#302d29" textLength="4.5" lengthAdjust="spacingAndGlyphs">6</text>
<text x="474.3" y="517.1" font-size="9.6" text-anchor="middle" fill="#302d29" stroke="#302d29" textLength="4.5" lengthAdjust="spacingAndGlyphs">7</text>
<text x="493" y="517.1" font-size="9.6" text-anchor="middle" fill="#302d29" stroke="#302d29" textLength="4.5" lengthAdjust="spacingAndGlyphs">8</text>
<text x="511.9" y="517.1" font-size="9.6" text-anchor="middle" fill="#302d29" stroke="#302d29" textLength="4.5" lengthAdjust="spacingAndGlyphs">9</text>
<text x="531.3" y="518.4" font-size="13" text-anchor="middle" fill="#d0352b" stroke="#d0352b" textLength="12.2" lengthAdjust="spacingAndGlyphs">10</text>
<text x="549.4" y="517.1" font-size="9.6" text-anchor="middle" fill="#302d29" stroke="#302d29" textLength="4.5" lengthAdjust="spacingAndGlyphs">1</text>
<text x="568.3" y="517.1" font-size="9.6" text-anchor="middle" fill="#302d29" stroke="#302d29" textLength="4.5" lengthAdjust="spacingAndGlyphs">2</text>
</g>
<rect x="376" y="360.2" width="242.6" height="181" fill="none" stroke="#5a5a5a" stroke-width="1.1"/>
<path d="M376 541.2v3.5M416.3 541.2v3.5M456.5 541.2v3.5M496.8 541.2v3.5M537.1 541.2v3.5M577.4 541.2v3.5M617.6 541.2v3.5" stroke="#5a5a5a" stroke-width="1" fill="none"/>
<path d="M396.1 541.2v2M436.4 541.2v2M476.7 541.2v2M516.9 541.2v2M557.2 541.2v2M597.5 541.2v2" stroke="#5a5a5a" stroke-width="1" fill="none"/>
<path d="M376 541.2h-3.5M376 505h-3.5M376 468.8h-3.5M376 432.6h-3.5M376 396.4h-3.5M376 360.2h-3.5" stroke="#5a5a5a" stroke-width="1" fill="none"/>
<path d="M376 523.1h-2M376 486.9h-2M376 450.7h-2M376 414.5h-2M376 378.3h-2" stroke="#5a5a5a" stroke-width="1" fill="none"/>
<text x="376" y="555.3" font-size="10.6" text-anchor="middle" fill="#3c3c3c" stroke="#3c3c3c">0</text>
<text x="416.3" y="555.3" font-size="10.6" text-anchor="middle" fill="#3c3c3c" stroke="#3c3c3c">1</text>
<text x="456.5" y="555.3" font-size="10.6" text-anchor="middle" fill="#3c3c3c" stroke="#3c3c3c">2</text>
<text x="496.8" y="555.3" font-size="10.6" text-anchor="middle" fill="#3c3c3c" stroke="#3c3c3c">3</text>
<text x="537.1" y="555.3" font-size="10.6" text-anchor="middle" fill="#3c3c3c" stroke="#3c3c3c">4</text>
<text x="577.4" y="555.3" font-size="10.6" text-anchor="middle" fill="#3c3c3c" stroke="#3c3c3c">5</text>
<text x="617.6" y="555.3" font-size="10.6" text-anchor="middle" fill="#3c3c3c" stroke="#3c3c3c">6</text>
<text x="370.5" y="544.8" font-size="10.6" text-anchor="end" fill="#3c3c3c" stroke="#3c3c3c">0</text>
<text x="370.5" y="508.6" font-size="10.6" text-anchor="end" fill="#3c3c3c" stroke="#3c3c3c">1</text>
<text x="370.5" y="472.4" font-size="10.6" text-anchor="end" fill="#3c3c3c" stroke="#3c3c3c">2</text>
<text x="370.5" y="436.2" font-size="10.6" text-anchor="end" fill="#3c3c3c" stroke="#3c3c3c">3</text>
<text x="370.5" y="400" font-size="10.6" text-anchor="end" fill="#3c3c3c" stroke="#3c3c3c">4</text>
<text x="370.5" y="363.8" font-size="10.6" text-anchor="end" fill="#3c3c3c" stroke="#3c3c3c">5</text>
<text x="496" y="571.3" font-size="13.5" text-anchor="middle" fill="#3c3c3c" stroke="#3c3c3c">Voltage (V)</text>
<text x="352.4" y="449.3" font-size="13.8" text-anchor="middle" fill="#3c3c3c" stroke="#3c3c3c" transform="rotate(-90 352.4 449.3)">Current density (mA/cm<tspan font-size="8.8" dy="-4.5">2</tspan><tspan dy="4.5">)</tspan></text>
<polyline points="376,367.8 377.6,367.8 379.2,367.8 380.8,367.8 382.4,367.8 384,367.8 385.6,367.8 387.2,367.8 388.8,367.8 390.4,367.8 392.1,367.8 393.7,367.8 395.3,367.8 396.9,367.8 398.5,367.8 400.1,367.8 401.7,367.8 403.3,367.8 404.9,367.8 406.5,367.8 408.1,367.8 409.7,367.8 411.3,367.8 412.9,367.8 414.5,367.8 416.1,367.8 417.7,367.8 419.3,367.8 421,367.8 422.6,367.8 424.2,367.8 425.8,367.8 427.4,367.8 429,367.8 430.6,367.8 432.2,367.8 433.8,367.8 435.4,367.8 437,367.8 438.6,367.8 440.2,367.8 441.8,367.8 443.4,367.8 445,367.8 446.6,367.8 448.2,367.8 449.8,367.8 451.5,367.8 453.1,367.8 454.7,367.8 456.3,367.8 457.9,367.8 459.5,367.8 461.1,367.8 462.7,367.8 464.3,367.8 465.9,367.8 467.5,367.8 469.1,367.8 470.7,367.8 472.3,367.8 473.9,367.8 475.5,367.8 477.1,367.8 478.7,367.8 480.3,367.8 482,367.8 483.6,367.8 485.2,367.8 486.8,367.8 488.4,367.8 490,367.8 491.6,367.8 493.2,367.8 494.8,367.8 496.4,367.8 498,367.9 499.6,367.9 501.2,367.9 502.8,367.9 504.4,367.9 506,367.9 507.6,367.9 509.2,367.9 510.9,367.9 512.5,367.9 514.1,368 515.7,368 517.3,368 518.9,368 520.5,368.1 522.1,368.1 523.7,368.1 525.3,368.2 526.9,368.2 528.5,368.3 530.1,368.3 531.7,368.4 533.3,368.4 534.9,368.5 536.5,368.6 538.1,368.7 539.7,368.8 541.4,368.9 543,369 544.6,369.2 546.2,369.4 547.8,369.5 549.4,369.7 551,370 552.6,370.2 554.2,370.5 555.8,370.8 557.4,371.2 559,371.6 560.6,372.1 562.2,372.6 563.8,373.1 565.4,373.8 567,374.5 568.6,375.3 570.2,376.2 571.9,377.2 573.5,378.3 575.1,379.5 576.7,380.9 578.3,382.5 579.9,384.2 581.5,386.2 583.1,388.3 584.7,390.8 586.3,393.5 587.9,396.6 589.5,400 591.1,403.8 592.7,408.1 594.3,412.9 595.9,418.2 597.5,424.2 599.1,430.9 600.8,438.4 602.4,446.8 604,456.2 605.6,466.7 607.2,478.5 608.8,491.6 610.4,506.3 612,522.8 613.6,541.2" fill="none" stroke="#4277c4" stroke-width="1.1" stroke-linejoin="round"/>
<g fill="#86a8dc" stroke="#4277c4" stroke-width="0.9">
<circle cx="376" cy="367.8" r="1.25"/>
<circle cx="377.6" cy="367.8" r="1.25"/>
<circle cx="379.2" cy="367.8" r="1.25"/>
<circle cx="380.8" cy="367.8" r="1.25"/>
<circle cx="382.4" cy="367.8" r="1.25"/>
<circle cx="384" cy="367.8" r="1.25"/>
<circle cx="385.6" cy="367.8" r="1.25"/>
<circle cx="387.2" cy="367.8" r="1.25"/>
<circle cx="388.8" cy="367.8" r="1.25"/>
<circle cx="390.4" cy="367.8" r="1.25"/>
<circle cx="392.1" cy="367.8" r="1.25"/>
<circle cx="393.7" cy="367.8" r="1.25"/>
<circle cx="395.3" cy="367.8" r="1.25"/>
<circle cx="396.9" cy="367.8" r="1.25"/>
<circle cx="398.5" cy="367.8" r="1.25"/>
<circle cx="400.1" cy="367.8" r="1.25"/>
<circle cx="401.7" cy="367.8" r="1.25"/>
<circle cx="403.3" cy="367.8" r="1.25"/>
<circle cx="404.9" cy="367.8" r="1.25"/>
<circle cx="406.5" cy="367.8" r="1.25"/>
<circle cx="408.1" cy="367.8" r="1.25"/>
<circle cx="409.7" cy="367.8" r="1.25"/>
<circle cx="411.3" cy="367.8" r="1.25"/>
<circle cx="412.9" cy="367.8" r="1.25"/>
<circle cx="414.5" cy="367.8" r="1.25"/>
<circle cx="416.1" cy="367.8" r="1.25"/>
<circle cx="417.7" cy="367.8" r="1.25"/>
<circle cx="419.3" cy="367.8" r="1.25"/>
<circle cx="421" cy="367.8" r="1.25"/>
<circle cx="422.6" cy="367.8" r="1.25"/>
<circle cx="424.2" cy="367.8" r="1.25"/>
<circle cx="425.8" cy="367.8" r="1.25"/>
<circle cx="427.4" cy="367.8" r="1.25"/>
<circle cx="429" cy="367.8" r="1.25"/>
<circle cx="430.6" cy="367.8" r="1.25"/>
<circle cx="432.2" cy="367.8" r="1.25"/>
<circle cx="433.8" cy="367.8" r="1.25"/>
<circle cx="435.4" cy="367.8" r="1.25"/>
<circle cx="437" cy="367.8" r="1.25"/>
<circle cx="438.6" cy="367.8" r="1.25"/>
<circle cx="440.2" cy="367.8" r="1.25"/>
<circle cx="441.8" cy="367.8" r="1.25"/>
<circle cx="443.4" cy="367.8" r="1.25"/>
<circle cx="445" cy="367.8" r="1.25"/>
<circle cx="446.6" cy="367.8" r="1.25"/>
<circle cx="448.2" cy="367.8" r="1.25"/>
<circle cx="449.8" cy="367.8" r="1.25"/>
<circle cx="451.5" cy="367.8" r="1.25"/>
<circle cx="453.1" cy="367.8" r="1.25"/>
<circle cx="454.7" cy="367.8" r="1.25"/>
<circle cx="456.3" cy="367.8" r="1.25"/>
<circle cx="457.9" cy="367.8" r="1.25"/>
<circle cx="459.5" cy="367.8" r="1.25"/>
<circle cx="461.1" cy="367.8" r="1.25"/>
<circle cx="462.7" cy="367.8" r="1.25"/>
<circle cx="464.3" cy="367.8" r="1.25"/>
<circle cx="465.9" cy="367.8" r="1.25"/>
<circle cx="467.5" cy="367.8" r="1.25"/>
<circle cx="469.1" cy="367.8" r="1.25"/>
<circle cx="470.7" cy="367.8" r="1.25"/>
<circle cx="472.3" cy="367.8" r="1.25"/>
<circle cx="473.9" cy="367.8" r="1.25"/>
<circle cx="475.5" cy="367.8" r="1.25"/>
<circle cx="477.1" cy="367.8" r="1.25"/>
<circle cx="478.7" cy="367.8" r="1.25"/>
<circle cx="480.3" cy="367.8" r="1.25"/>
<circle cx="482" cy="367.8" r="1.25"/>
<circle cx="483.6" cy="367.8" r="1.25"/>
<circle cx="485.2" cy="367.8" r="1.25"/>
<circle cx="486.8" cy="367.8" r="1.25"/>
<circle cx="488.4" cy="367.8" r="1.25"/>
<circle cx="490" cy="367.8" r="1.25"/>
<circle cx="491.6" cy="367.8" r="1.25"/>
<circle cx="493.2" cy="367.8" r="1.25"/>
<circle cx="494.8" cy="367.8" r="1.25"/>
<circle cx="496.4" cy="367.8" r="1.25"/>
<circle cx="498" cy="367.9" r="1.25"/>
<circle cx="499.6" cy="367.9" r="1.25"/>
<circle cx="501.2" cy="367.9" r="1.25"/>
<circle cx="502.8" cy="367.9" r="1.25"/>
<circle cx="504.4" cy="367.9" r="1.25"/>
<circle cx="506" cy="367.9" r="1.25"/>
<circle cx="507.6" cy="367.9" r="1.25"/>
<circle cx="509.2" cy="367.9" r="1.25"/>
<circle cx="510.9" cy="367.9" r="1.25"/>
<circle cx="512.5" cy="367.9" r="1.25"/>
<circle cx="514.1" cy="368" r="1.25"/>
<circle cx="515.7" cy="368" r="1.25"/>
<circle cx="517.3" cy="368" r="1.25"/>
<circle cx="518.9" cy="368" r="1.25"/>
<circle cx="520.5" cy="368.1" r="1.25"/>
<circle cx="522.1" cy="368.1" r="1.25"/>
<circle cx="523.7" cy="368.1" r="1.25"/>
<circle cx="525.3" cy="368.2" r="1.25"/>
<circle cx="526.9" cy="368.2" r="1.25"/>
<circle cx="528.5" cy="368.3" r="1.25"/>
<circle cx="530.1" cy="368.3" r="1.25"/>
<circle cx="531.7" cy="368.4" r="1.25"/>
<circle cx="533.3" cy="368.4" r="1.25"/>
<circle cx="534.9" cy="368.5" r="1.25"/>
<circle cx="536.5" cy="368.6" r="1.25"/>
<circle cx="538.1" cy="368.7" r="1.25"/>
<circle cx="539.7" cy="368.8" r="1.25"/>
<circle cx="541.4" cy="368.9" r="1.25"/>
<circle cx="543" cy="369" r="1.25"/>
<circle cx="544.6" cy="369.2" r="1.25"/>
<circle cx="546.2" cy="369.4" r="1.25"/>
<circle cx="547.8" cy="369.5" r="1.25"/>
<circle cx="549.4" cy="369.7" r="1.25"/>
<circle cx="551" cy="370" r="1.25"/>
<circle cx="552.6" cy="370.2" r="1.25"/>
<circle cx="554.2" cy="370.5" r="1.25"/>
<circle cx="555.8" cy="370.8" r="1.25"/>
<circle cx="557.4" cy="371.2" r="1.25"/>
<circle cx="559" cy="371.6" r="1.25"/>
<circle cx="560.6" cy="372.1" r="1.25"/>
<circle cx="562.2" cy="372.6" r="1.25"/>
<circle cx="563.8" cy="373.1" r="1.25"/>
<circle cx="565.4" cy="373.8" r="1.25"/>
<circle cx="567" cy="374.5" r="1.25"/>
<circle cx="568.6" cy="375.3" r="1.25"/>
<circle cx="570.2" cy="376.2" r="1.25"/>
<circle cx="571.9" cy="377.2" r="1.25"/>
<circle cx="573.5" cy="378.3" r="1.25"/>
<circle cx="575.1" cy="379.5" r="1.25"/>
<circle cx="576.7" cy="380.9" r="1.25"/>
<circle cx="578.3" cy="382.5" r="1.25"/>
<circle cx="579.9" cy="384.2" r="1.25"/>
<circle cx="581.5" cy="386.2" r="1.25"/>
<circle cx="583.1" cy="388.3" r="1.25"/>
<circle cx="584.7" cy="390.8" r="1.25"/>
<circle cx="586.3" cy="393.5" r="1.25"/>
<circle cx="587.9" cy="396.6" r="1.25"/>
<circle cx="589.5" cy="400" r="1.25"/>
<circle cx="591.1" cy="403.8" r="1.25"/>
<circle cx="592.7" cy="408.1" r="1.25"/>
<circle cx="594.3" cy="412.9" r="1.25"/>
<circle cx="595.9" cy="418.2" r="1.25"/>
<circle cx="597.5" cy="424.2" r="1.25"/>
<circle cx="599.1" cy="430.9" r="1.25"/>
<circle cx="600.8" cy="438.4" r="1.25"/>
<circle cx="602.4" cy="446.8" r="1.25"/>
<circle cx="604" cy="456.2" r="1.25"/>
<circle cx="605.6" cy="466.7" r="1.25"/>
<circle cx="607.2" cy="478.5" r="1.25"/>
<circle cx="608.8" cy="491.6" r="1.25"/>
<circle cx="610.4" cy="506.3" r="1.25"/>
<circle cx="612" cy="522.8" r="1.25"/>
<circle cx="613.6" cy="541.2" r="1.25"/>
</g>
<polyline points="376,367.4 377.6,367.4 379.2,367.4 380.8,367.4 382.5,367.4 384.1,367.4 385.7,367.4 387.3,367.4 388.9,367.4 390.5,367.4 392.1,367.4 393.7,367.4 395.4,367.4 397,367.4 398.6,367.4 400.2,367.4 401.8,367.4 403.4,367.4 405,367.4 406.7,367.4 408.3,367.4 409.9,367.4 411.5,367.4 413.1,367.4 414.7,367.4 416.3,367.4 418,367.4 419.6,367.4 421.2,367.4 422.8,367.4 424.4,367.4 426,367.4 427.6,367.4 429.2,367.4 430.9,367.4 432.5,367.4 434.1,367.4 435.7,367.4 437.3,367.4 438.9,367.4 440.5,367.4 442.2,367.4 443.8,367.4 445.4,367.4 447,367.4 448.6,367.4 450.2,367.4 451.8,367.4 453.4,367.4 455.1,367.4 456.7,367.4 458.3,367.4 459.9,367.4 461.5,367.4 463.1,367.4 464.7,367.4 466.4,367.4 468,367.4 469.6,367.4 471.2,367.4 472.8,367.4 474.4,367.4 476,367.4 477.7,367.4 479.3,367.4 480.9,367.4 482.5,367.4 484.1,367.4 485.7,367.4 487.3,367.4 488.9,367.4 490.6,367.4 492.2,367.4 493.8,367.4 495.4,367.5 497,367.5 498.6,367.5 500.2,367.5 501.9,367.5 503.5,367.5 505.1,367.5 506.7,367.5 508.3,367.5 509.9,367.5 511.5,367.5 513.1,367.5 514.8,367.5 516.4,367.5 518,367.5 519.6,367.5 521.2,367.5 522.8,367.5 524.4,367.6 526.1,367.6 527.7,367.6 529.3,367.6 530.9,367.6 532.5,367.7 534.1,367.7 535.7,367.7 537.4,367.8 539,367.8 540.6,367.9 542.2,367.9 543.8,368 545.4,368.1 547,368.1 548.6,368.2 550.3,368.3 551.9,368.5 553.5,368.6 555.1,368.8 556.7,369 558.3,369.2 559.9,369.4 561.6,369.7 563.2,370 564.8,370.4 566.4,370.8 568,371.3 569.6,371.8 571.2,372.4 572.8,373.1 574.5,374 576.1,374.9 577.7,375.9 579.3,377.1 580.9,378.5 582.5,380 584.1,381.8 585.8,383.8 587.4,386.1 589,388.7 590.6,391.7 592.2,395.1 593.8,398.9 595.4,403.4 597.1,408.4 598.7,414.2 600.3,420.7 601.9,428.2 603.5,436.7 605.1,446.4 606.7,457.5 608.3,470.2 610,484.6 611.6,501.1 613.2,519.8 614.8,541.2" fill="none" stroke="#e64d53" stroke-width="1.1" stroke-linejoin="round"/>
<g fill="#f29c9e" stroke="#e64d53" stroke-width="0.9">
<circle cx="376" cy="367.4" r="1.25"/>
<circle cx="377.6" cy="367.4" r="1.25"/>
<circle cx="379.2" cy="367.4" r="1.25"/>
<circle cx="380.8" cy="367.4" r="1.25"/>
<circle cx="382.5" cy="367.4" r="1.25"/>
<circle cx="384.1" cy="367.4" r="1.25"/>
<circle cx="385.7" cy="367.4" r="1.25"/>
<circle cx="387.3" cy="367.4" r="1.25"/>
<circle cx="388.9" cy="367.4" r="1.25"/>
<circle cx="390.5" cy="367.4" r="1.25"/>
<circle cx="392.1" cy="367.4" r="1.25"/>
<circle cx="393.7" cy="367.4" r="1.25"/>
<circle cx="395.4" cy="367.4" r="1.25"/>
<circle cx="397" cy="367.4" r="1.25"/>
<circle cx="398.6" cy="367.4" r="1.25"/>
<circle cx="400.2" cy="367.4" r="1.25"/>
<circle cx="401.8" cy="367.4" r="1.25"/>
<circle cx="403.4" cy="367.4" r="1.25"/>
<circle cx="405" cy="367.4" r="1.25"/>
<circle cx="406.7" cy="367.4" r="1.25"/>
<circle cx="408.3" cy="367.4" r="1.25"/>
<circle cx="409.9" cy="367.4" r="1.25"/>
<circle cx="411.5" cy="367.4" r="1.25"/>
<circle cx="413.1" cy="367.4" r="1.25"/>
<circle cx="414.7" cy="367.4" r="1.25"/>
<circle cx="416.3" cy="367.4" r="1.25"/>
<circle cx="418" cy="367.4" r="1.25"/>
<circle cx="419.6" cy="367.4" r="1.25"/>
<circle cx="421.2" cy="367.4" r="1.25"/>
<circle cx="422.8" cy="367.4" r="1.25"/>
<circle cx="424.4" cy="367.4" r="1.25"/>
<circle cx="426" cy="367.4" r="1.25"/>
<circle cx="427.6" cy="367.4" r="1.25"/>
<circle cx="429.2" cy="367.4" r="1.25"/>
<circle cx="430.9" cy="367.4" r="1.25"/>
<circle cx="432.5" cy="367.4" r="1.25"/>
<circle cx="434.1" cy="367.4" r="1.25"/>
<circle cx="435.7" cy="367.4" r="1.25"/>
<circle cx="437.3" cy="367.4" r="1.25"/>
<circle cx="438.9" cy="367.4" r="1.25"/>
<circle cx="440.5" cy="367.4" r="1.25"/>
<circle cx="442.2" cy="367.4" r="1.25"/>
<circle cx="443.8" cy="367.4" r="1.25"/>
<circle cx="445.4" cy="367.4" r="1.25"/>
<circle cx="447" cy="367.4" r="1.25"/>
<circle cx="448.6" cy="367.4" r="1.25"/>
<circle cx="450.2" cy="367.4" r="1.25"/>
<circle cx="451.8" cy="367.4" r="1.25"/>
<circle cx="453.4" cy="367.4" r="1.25"/>
<circle cx="455.1" cy="367.4" r="1.25"/>
<circle cx="456.7" cy="367.4" r="1.25"/>
<circle cx="458.3" cy="367.4" r="1.25"/>
<circle cx="459.9" cy="367.4" r="1.25"/>
<circle cx="461.5" cy="367.4" r="1.25"/>
<circle cx="463.1" cy="367.4" r="1.25"/>
<circle cx="464.7" cy="367.4" r="1.25"/>
<circle cx="466.4" cy="367.4" r="1.25"/>
<circle cx="468" cy="367.4" r="1.25"/>
<circle cx="469.6" cy="367.4" r="1.25"/>
<circle cx="471.2" cy="367.4" r="1.25"/>
<circle cx="472.8" cy="367.4" r="1.25"/>
<circle cx="474.4" cy="367.4" r="1.25"/>
<circle cx="476" cy="367.4" r="1.25"/>
<circle cx="477.7" cy="367.4" r="1.25"/>
<circle cx="479.3" cy="367.4" r="1.25"/>
<circle cx="480.9" cy="367.4" r="1.25"/>
<circle cx="482.5" cy="367.4" r="1.25"/>
<circle cx="484.1" cy="367.4" r="1.25"/>
<circle cx="485.7" cy="367.4" r="1.25"/>
<circle cx="487.3" cy="367.4" r="1.25"/>
<circle cx="488.9" cy="367.4" r="1.25"/>
<circle cx="490.6" cy="367.4" r="1.25"/>
<circle cx="492.2" cy="367.4" r="1.25"/>
<circle cx="493.8" cy="367.4" r="1.25"/>
<circle cx="495.4" cy="367.5" r="1.25"/>
<circle cx="497" cy="367.5" r="1.25"/>
<circle cx="498.6" cy="367.5" r="1.25"/>
<circle cx="500.2" cy="367.5" r="1.25"/>
<circle cx="501.9" cy="367.5" r="1.25"/>
<circle cx="503.5" cy="367.5" r="1.25"/>
<circle cx="505.1" cy="367.5" r="1.25"/>
<circle cx="506.7" cy="367.5" r="1.25"/>
<circle cx="508.3" cy="367.5" r="1.25"/>
<circle cx="509.9" cy="367.5" r="1.25"/>
<circle cx="511.5" cy="367.5" r="1.25"/>
<circle cx="513.1" cy="367.5" r="1.25"/>
<circle cx="514.8" cy="367.5" r="1.25"/>
<circle cx="516.4" cy="367.5" r="1.25"/>
<circle cx="518" cy="367.5" r="1.25"/>
<circle cx="519.6" cy="367.5" r="1.25"/>
<circle cx="521.2" cy="367.5" r="1.25"/>
<circle cx="522.8" cy="367.5" r="1.25"/>
<circle cx="524.4" cy="367.6" r="1.25"/>
<circle cx="526.1" cy="367.6" r="1.25"/>
<circle cx="527.7" cy="367.6" r="1.25"/>
<circle cx="529.3" cy="367.6" r="1.25"/>
<circle cx="530.9" cy="367.6" r="1.25"/>
<circle cx="532.5" cy="367.7" r="1.25"/>
<circle cx="534.1" cy="367.7" r="1.25"/>
<circle cx="535.7" cy="367.7" r="1.25"/>
<circle cx="537.4" cy="367.8" r="1.25"/>
<circle cx="539" cy="367.8" r="1.25"/>
<circle cx="540.6" cy="367.9" r="1.25"/>
<circle cx="542.2" cy="367.9" r="1.25"/>
<circle cx="543.8" cy="368" r="1.25"/>
<circle cx="545.4" cy="368.1" r="1.25"/>
<circle cx="547" cy="368.1" r="1.25"/>
<circle cx="548.6" cy="368.2" r="1.25"/>
<circle cx="550.3" cy="368.3" r="1.25"/>
<circle cx="551.9" cy="368.5" r="1.25"/>
<circle cx="553.5" cy="368.6" r="1.25"/>
<circle cx="555.1" cy="368.8" r="1.25"/>
<circle cx="556.7" cy="369" r="1.25"/>
<circle cx="558.3" cy="369.2" r="1.25"/>
<circle cx="559.9" cy="369.4" r="1.25"/>
<circle cx="561.6" cy="369.7" r="1.25"/>
<circle cx="563.2" cy="370" r="1.25"/>
<circle cx="564.8" cy="370.4" r="1.25"/>
<circle cx="566.4" cy="370.8" r="1.25"/>
<circle cx="568" cy="371.3" r="1.25"/>
<circle cx="569.6" cy="371.8" r="1.25"/>
<circle cx="571.2" cy="372.4" r="1.25"/>
<circle cx="572.8" cy="373.1" r="1.25"/>
<circle cx="574.5" cy="374" r="1.25"/>
<circle cx="576.1" cy="374.9" r="1.25"/>
<circle cx="577.7" cy="375.9" r="1.25"/>
<circle cx="579.3" cy="377.1" r="1.25"/>
<circle cx="580.9" cy="378.5" r="1.25"/>
<circle cx="582.5" cy="380" r="1.25"/>
<circle cx="584.1" cy="381.8" r="1.25"/>
<circle cx="585.8" cy="383.8" r="1.25"/>
<circle cx="587.4" cy="386.1" r="1.25"/>
<circle cx="589" cy="388.7" r="1.25"/>
<circle cx="590.6" cy="391.7" r="1.25"/>
<circle cx="592.2" cy="395.1" r="1.25"/>
<circle cx="593.8" cy="398.9" r="1.25"/>
<circle cx="595.4" cy="403.4" r="1.25"/>
<circle cx="597.1" cy="408.4" r="1.25"/>
<circle cx="598.7" cy="414.2" r="1.25"/>
<circle cx="600.3" cy="420.7" r="1.25"/>
<circle cx="601.9" cy="428.2" r="1.25"/>
<circle cx="603.5" cy="436.7" r="1.25"/>
<circle cx="605.1" cy="446.4" r="1.25"/>
<circle cx="606.7" cy="457.5" r="1.25"/>
<circle cx="608.3" cy="470.2" r="1.25"/>
<circle cx="610" cy="484.6" r="1.25"/>
<circle cx="611.6" cy="501.1" r="1.25"/>
<circle cx="613.2" cy="519.8" r="1.25"/>
<circle cx="614.8" cy="541.2" r="1.25"/>
</g>
<text x="615.5" y="371" font-size="10.7" text-anchor="end" fill="#3c3c3c" stroke="#3c3c3c">Module</text>
<line x1="380.4" y1="388.6" x2="404.6" y2="388.6" stroke="#4277c4" stroke-width="1"/>
<circle cx="392.5" cy="388.6" r="1.3" fill="#86a8dc" stroke="#4277c4" stroke-width="0.9"/>
<text x="407.8" y="392.2" font-size="10.7" fill="#3c3c3c" stroke="#3c3c3c">Forward, PCE=22.10%</text>
<line x1="380.4" y1="400.9" x2="404.6" y2="400.9" stroke="#e64d53" stroke-width="1"/>
<circle cx="392.5" cy="400.9" r="1.3" fill="#f29c9e" stroke="#e64d53" stroke-width="0.9"/>
<text x="407.8" y="404.5" font-size="10.7" fill="#3c3c3c" stroke="#3c3c3c">Reverse, PCE=22.81%</text>
</g>
<g id="panelE" filter="url(#b1)" stroke-width="0.3">
<text x="640.8" y="363.2" font-size="21" font-weight="bold" fill="#111" stroke="#111">E</text>
<rect x="679" y="366.8" width="367.2" height="172.6" fill="none" stroke="#5a5a5a" stroke-width="1.1"/>
<path d="M679 539.4v3.5M740.2 539.4v3.5M801.4 539.4v3.5M862.6 539.4v3.5M923.8 539.4v3.5M985 539.4v3.5M1046.2 539.4v3.5" stroke="#5a5a5a" stroke-width="1" fill="none"/>
<path d="M709.6 539.4v2M770.8 539.4v2M832 539.4v2M893.2 539.4v2M954.4 539.4v2M1015.6 539.4v2" stroke="#5a5a5a" stroke-width="1" fill="none"/>
<path d="M679 539.4h-3.5M679 504.9h-3.5M679 470.3h-3.5M679 435.8h-3.5M679 401.3h-3.5M679 366.8h-3.5" stroke="#5a5a5a" stroke-width="1" fill="none"/>
<path d="M679 522.1h-2M679 487.6h-2M679 453.1h-2M679 418.6h-2M679 384h-2" stroke="#5a5a5a" stroke-width="1" fill="none"/>
<path d="M1046.2 539.4h3.5M1046.2 504.9h3.5M1046.2 470.3h3.5M1046.2 435.8h3.5M1046.2 401.3h3.5M1046.2 366.8h3.5" stroke="#5a5a5a" stroke-width="1" fill="none"/>
<path d="M1046.2 522.1h2M1046.2 487.6h2M1046.2 453.1h2M1046.2 418.6h2M1046.2 384h2" stroke="#5a5a5a" stroke-width="1" fill="none"/>
<text x="679" y="552.7" font-size="10.6" text-anchor="middle" fill="#3c3c3c" stroke="#3c3c3c">0</text>
<text x="740.2" y="552.7" font-size="10.6" text-anchor="middle" fill="#3c3c3c" stroke="#3c3c3c">200</text>
<text x="801.4" y="552.7" font-size="10.6" text-anchor="middle" fill="#3c3c3c" stroke="#3c3c3c">400</text>
<text x="862.6" y="552.7" font-size="10.6" text-anchor="middle" fill="#3c3c3c" stroke="#3c3c3c">600</text>
<text x="923.8" y="552.7" font-size="10.6" text-anchor="middle" fill="#3c3c3c" stroke="#3c3c3c">800</text>
<text x="985" y="552.7" font-size="10.6" text-anchor="middle" fill="#3c3c3c" stroke="#3c3c3c">1000</text>
<text x="1046.2" y="552.7" font-size="10.6" text-anchor="middle" fill="#3c3c3c" stroke="#3c3c3c">1200</text>
<text x="673.5" y="543" font-size="10.6" text-anchor="end" fill="#3c3c3c" stroke="#3c3c3c">0</text>
<text x="1051.5" y="543" font-size="10.6" fill="#3c3c3c" stroke="#3c3c3c">0</text>
<text x="673.5" y="508.5" font-size="10.6" text-anchor="end" fill="#3c3c3c" stroke="#3c3c3c">5</text>
<text x="1051.5" y="508.5" font-size="10.6" fill="#3c3c3c" stroke="#3c3c3c">5</text>
<text x="673.5" y="473.9" font-size="10.6" text-anchor="end" fill="#3c3c3c" stroke="#3c3c3c">10</text>
<text x="1051.5" y="473.9" font-size="10.6" fill="#3c3c3c" stroke="#3c3c3c">10</text>
<text x="673.5" y="439.4" font-size="10.6" text-anchor="end" fill="#3c3c3c" stroke="#3c3c3c">15</text>
<text x="1051.5" y="439.4" font-size="10.6" fill="#3c3c3c" stroke="#3c3c3c">15</text>
<text x="673.5" y="404.9" font-size="10.6" text-anchor="end" fill="#3c3c3c" stroke="#3c3c3c">20</text>
<text x="1051.5" y="404.9" font-size="10.6" fill="#3c3c3c" stroke="#3c3c3c">20</text>
<text x="673.5" y="370.4" font-size="10.6" text-anchor="end" fill="#3c3c3c" stroke="#3c3c3c">25</text>
<text x="1051.5" y="370.4" font-size="10.6" fill="#3c3c3c" stroke="#3c3c3c">25</text>
<text x="862.5" y="568.3" font-size="13.5" text-anchor="middle" fill="#3c3c3c" stroke="#3c3c3c">Time (h)</text>
<text x="653.5" y="453" font-size="13.5" text-anchor="middle" fill="#3c3c3c" stroke="#3c3c3c" transform="rotate(-90 653.5 453)">PCE (%)</text>
<polyline points="679,383.6 679.9,383.5 680.8,383.9 681.8,383.9 682.7,384.1 683.6,384.8 684.5,385.1 685.4,384.5 686.3,385.2 687.3,385.5 688.2,384.9 689.1,385.6 690,385.5 690.9,386 691.9,386 692.8,386.7 693.7,386.4 694.6,386.4 695.5,386.9 696.4,386.9 697.4,387.1 698.3,387.9 699.2,387.4 700.1,387.8 701,388.2 702,388.7 702.9,388 703.8,388.7 704.7,389 705.6,389.4 706.5,390 707.5,390.2 708.4,390.6 709.3,390.1 710.2,390.4 711.1,389.8 712,390.2 713,391.3 713.9,391.6 714.8,391.9 715.7,391.5 716.6,392.4 717.6,392.5 718.5,393.2 719.4,393.4 720.3,393.8 721.2,394.2 722.1,394.3 723.1,394.7 724,394.7 724.9,395.3 725.8,395.4 726.7,395.8 727.7,396 728.6,396.6 729.5,397.5 730.4,397.2 731.3,397.4 732.2,397.8 733.2,398.5 734.1,398.7 735,399.5 735.9,399.3 736.8,399.8 737.8,400.5 738.7,401.1 739.6,400.7 740.5,401 741.4,402.3 742.3,402 743.3,402.8 744.2,403.5 745.1,403.8 746,403.7 746.9,404 747.9,405.2 748.8,405.1 749.7,406.1 750.6,405.8 751.5,406.6 752.4,406.5 753.4,406.8 754.3,407.7 755.2,407.6 756.1,408.7 757,409.3 757.9,409.2 758.9,410.2 759.8,410.5 760.7,410.7 761.6,410.9 762.5,411.7 763.5,412.3 764.4,411.9 765.3,412.8 766.2,412.6 767.1,413.1 768,414 769,414.3 769.9,414.7 770.8,415 771.7,415.4 772.6,415.9 773.6,416.2 774.5,416.3 775.4,417.2 776.3,417.7 777.2,417.8 778.1,418.7 779.1,419 780,418.8 780.9,419.6 781.8,420 782.7,421 783.7,421 784.6,421.2 785.5,422.2 786.4,422 787.3,422.4 788.2,423.4 789.2,423.3 790.1,423.8 791,424.1 791.9,424.8 792.8,424.9 793.8,425.2 794.7,426.3 795.6,426.7 796.5,426.5 797.4,426.7 798.3,427.8 799.3,428 800.2,428.3 801.1,429 802,429.3 802.9,429.7 803.8,430 804.8,430.2 805.7,430.9 806.6,431.2 807.5,431.1 808.4,432.2 809.4,432.1 810.3,432.3 811.2,433.1 812.1,433.5 813,433.3 813.9,434.3 814.9,434.7 815.8,434.8 816.7,434.9 817.6,435.9 818.5,436.1 819.5,436.4 820.4,436.3 821.3,437.1 822.2,437 823.1,438.1 824,438.3 825,438.3 825.9,438.5 826.8,439.3 827.7,439.9 828.6,440.3 829.6,440.3 830.5,441 831.4,440.8 832.3,441.1 833.2,442.1 834.1,442.3 835.1,442.1 836,442.6 836.9,442.7 837.8,443.5 838.7,444 839.6,444.1 840.6,444 841.5,444.8 842.4,445 843.3,445.3 844.2,445.6 845.2,445.9 846.1,445.7 847,446.8 847.9,447.2 848.8,446.6 849.7,447 850.7,447.2 851.6,448.1 852.5,447.9 853.4,448.2 854.3,449.2 855.3,449 856.2,449.2 857.1,449.7 858,450.2 858.9,450.7 859.8,451 860.8,451.4 861.7,451.9 862.6,451.7 863.5,452.3 864.4,452.1 865.4,453.1 866.3,452.6 867.2,453.1 868.1,453.2 869,453.6 869.9,453.9 870.9,454.5 871.8,455.4 872.7,455 873.6,455.9 874.5,456.1 875.5,456 876.4,456.5 877.3,456.9 878.2,456.7" fill="none" stroke="#4277c4" stroke-width="3.5" stroke-linecap="round" stroke-linejoin="round"/>
<polyline points="679,372.9 679.9,375.5 680.8,378 681.8,378.6 682.7,379.9 683.6,380.7 684.5,381.2 685.4,381.6 686.3,381.5 687.3,381.5 688.2,382.2 689.1,382 690,382.1 690.9,382.4 691.9,382.5 692.8,383.1 693.7,382.8 694.6,382.7 695.5,383.3 696.4,383.2 697.4,383.3 698.3,383.2 699.2,383.3 700.1,383.3 701,383.2 702,383.8 702.9,383.8 703.8,383.9 704.7,383.9 705.6,384 706.5,383.5 707.5,383.6 708.4,384.2 709.3,384 710.2,384.2 711.1,384.2 712,384.1 713,383.9 713.9,384 714.8,384.1 715.7,384.2 716.6,384.1 717.6,384.3 718.5,383.9 719.4,383.8 720.3,384.1 721.2,384.3 722.1,384.2 723.1,384 724,383.9 724.9,383.8 725.8,384 726.7,383.7 727.7,383.9 728.6,384 729.5,384 730.4,383.9 731.3,383.8 732.2,384 733.2,383.8 734.1,383.9 735,384.1 735.9,383.9 736.8,383.7 737.8,384.2 738.7,383.9 739.6,383.9 740.5,383.6 741.4,383.6 742.3,383.9 743.3,383.6 744.2,383.6 745.1,384 746,383.9 746.9,384.1 747.9,383.6 748.8,383.7 749.7,383.5 750.6,383.6 751.5,383.7 752.4,383.6 753.4,383.7 754.3,384.1 755.2,383.7 756.1,384.1 757,384 757.9,383.6 758.9,384.1 759.8,384 760.7,384 761.6,383.5 762.5,384 763.5,384.1 764.4,383.5 765.3,384 766.2,383.5 767.1,383.6 768,383.5 769,383.4 769.9,383.6 770.8,383.5 771.7,384 772.6,383.5 773.6,383.6 774.5,383.5 775.4,383.9 776.3,383.4 777.2,383.3 778.1,383.9 779.1,383.7 780,383.5 780.9,383.3 781.8,383.7 782.7,383.7 783.7,383.7 784.6,383.4 785.5,383.3 786.4,383.5 787.3,383.5 788.2,383.5 789.2,383.5 790.1,383.5 791,383.7 791.9,383.4 792.8,383 793.8,383.4 794.7,383.2 795.6,383.6 796.5,383.2 797.4,383.1 798.3,383.2 799.3,383.3 800.2,383.3 801.1,383.1 802,382.9 802.9,383.5 803.8,383.5 804.8,383 805.7,382.9 806.6,383.1 807.5,383.2 808.4,383 809.4,383.3 810.3,383.3 811.2,383.3 812.1,383 813,383.2 813.9,383.2 814.9,382.9 815.8,382.7 816.7,383.1 817.6,382.8 818.5,383 819.5,382.7 820.4,382.9 821.3,383.1 822.2,383.1 823.1,383.2 824,382.9 825,383 825.9,383.1 826.8,382.9 827.7,383 828.6,382.6 829.6,383.1 830.5,382.5 831.4,382.8 832.3,382.7 833.2,382.8 834.1,382.5 835.1,382.5 836,382.7 836.9,382.7 837.8,382.5 838.7,382.4 839.6,382.7 840.6,382.5 841.5,382.3 842.4,382.6 843.3,382.8 844.2,382.8 845.2,382.4 846.1,382.4 847,382.2 847.9,382.3 848.8,382.7 849.7,382.7 850.7,382.7 851.6,382.7 852.5,382.3 853.4,382.2 854.3,382.2 855.3,382.6 856.2,382.2 857.1,382.5 858,382.4 858.9,382.2 859.8,382.6 860.8,382.6 861.7,382.1 862.6,382.5 863.5,382.4 864.4,382.2 865.4,382.1 866.3,382.6 867.2,382.4 868.1,382.3 869,382.2 869.9,382.4 870.9,382.1 871.8,381.9 872.7,382.2 873.6,382.1 874.5,382.4 875.5,382.3 876.4,382 877.3,382.4 878.2,381.8 879.1,381.8 880,382.3 881,381.7 881.9,382.1 882.8,381.8 883.7,381.8 884.6,382.1 885.5,381.8 886.5,381.8 887.4,381.7 888.3,382.1 889.2,381.7 890.1,381.6 891.1,381.8 892,381.8 892.9,382.1 893.8,381.8 894.7,381.9 895.6,381.7 896.6,381.7 897.5,381.7 898.4,382 899.3,381.7 900.2,381.7 901.2,382 902.1,381.4 903,381.6 903.9,382 904.8,381.4 905.7,381.9 906.7,381.8 907.6,381.5 908.5,381.6 909.4,381.6 910.3,381.5 911.3,381.6 912.2,381.7 913.1,381.8 914,381.8 914.9,381.4 915.8,381.3 916.8,381.5 917.7,381.3 918.6,381.6 919.5,381.6 920.4,381.5 921.4,381.2 922.3,381.7 923.2,381.4 924.1,381.6 925,381.2 925.9,381.5 926.9,381.5 927.8,381.4 928.7,381.3 929.6,381.1 930.5,381.4 931.5,381 932.4,381.5 933.3,381.4 934.2,381.5 935.1,381.5 936,381 937,381 937.9,381.4 938.8,381.4 939.7,381.2 940.6,381 941.5,380.9 942.5,380.9 943.4,381 944.3,381.3 945.2,381.1 946.1,381.3 947.1,381 948,381 948.9,381.2 949.8,381.2 950.7,380.8 951.6,381.3 952.6,380.7 953.5,380.7 954.4,380.6 955.3,381 956.2,380.9 957.2,380.8 958.1,380.8 959,380.5 959.9,380.7 960.8,380.9 961.7,380.5 962.7,380.8 963.6,380.7 964.5,380.6 965.4,381.1 966.3,380.5 967.3,380.6 968.2,380.7 969.1,380.6 970,380.7 970.9,380.8 971.8,380.6 972.8,380.9 973.7,380.6 974.6,380.4 975.5,380.6 976.4,380.5 977.4,380.2 978.3,380.2 979.2,380.7 980.1,380.2 981,380.3 981.9,380.7 982.9,380.5 983.8,380.6 984.7,380.7 985.6,380.3 986.5,380 987.4,380.4 988.4,380 989.3,380.1 990.2,380.5 991.1,380 992,380.2 993,379.9 993.9,380 994.8,380 995.7,380.3 996.6,379.9 997.5,379.8 998.5,379.9 999.4,380.1 1000.3,379.9 1001.2,380.1 1002.1,380.3 1003.1,380.3 1004,380.3 1004.9,380.2 1005.8,380.2 1006.7,379.9 1007.6,379.8 1008.6,379.9 1009.5,379.9 1010.4,379.8 1011.3,380 1012.2,379.9 1013.2,379.6 1014.1,379.9 1015,380 1015.9,379.5 1016.8,379.6 1017.7,379.8 1018.7,379.8 1019.6,379.7 1020.5,379.6 1021.4,379.9 1022.3,380 1023.2,379.8 1024.2,379.4 1025.1,379.8 1026,379.6 1026.9,379.8 1027.8,379.7 1028.8,379.8 1029.7,379.6 1030.6,379.7 1031.5,379.8 1032.4,379.7 1033.3,379.7 1034.3,379.4 1035.2,379.7 1036.1,379.7 1037,379.4 1037.9,379.4 1038.9,379.2 1039.8,379.6 1040.7,379.4 1041.6,379.4 1042.5,379.6 1043.4,378.9 1044.4,379.4 1045.3,379.5 1046.2,379.2" fill="none" stroke="#e64d53" stroke-width="3.4" stroke-linecap="round" stroke-linejoin="round"/>
<text x="685.5" y="520.6" font-size="10.3" fill="#3c3c3c" stroke="#3c3c3c">ISOS-L-2</text>
<text x="685.5" y="534" font-size="10.3" fill="#3c3c3c" stroke="#3c3c3c">MPP under AM 1.5G illumination at 85 °C</text>
<circle cx="991" cy="516.5" r="1.5" fill="#7fa3dc" stroke="#4277c4" stroke-width="0.9"/>
<circle cx="991" cy="529" r="1.5" fill="#f29c9e" stroke="#e64d53" stroke-width="0.9"/>
<text x="1005" y="520.2" font-size="10.4" fill="#3c3c3c" stroke="#3c3c3c">Control</text>
<text x="1005" y="532.7" font-size="10.4" fill="#3c3c3c" stroke="#3c3c3c">Target</text>
</g>
</svg>
</body></html>
